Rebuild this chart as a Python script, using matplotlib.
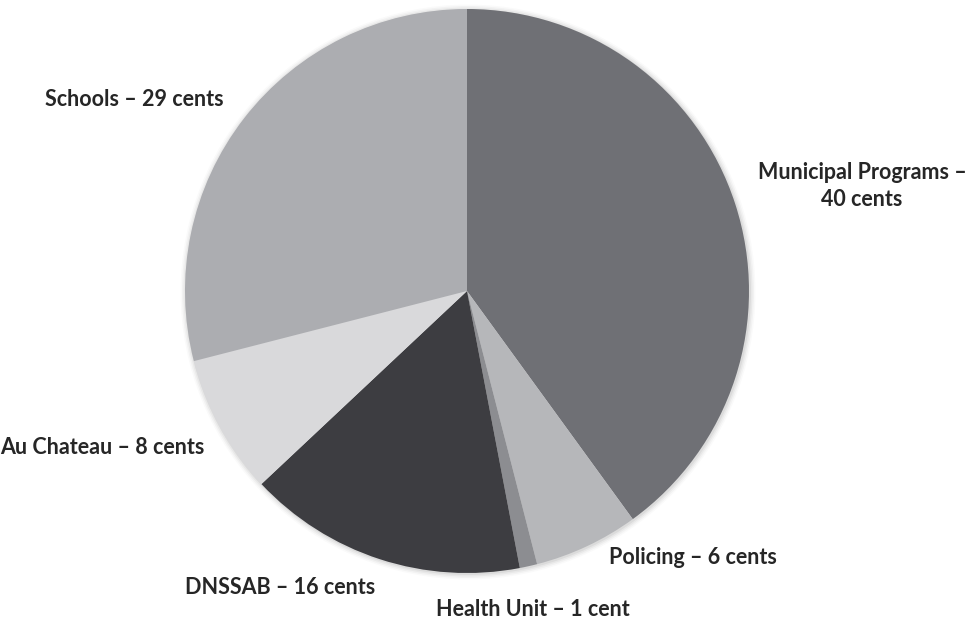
import matplotlib.pyplot as plt

labels = ['Municipal Programs –\n40 cents', 'Policing – 6 cents', 'Health Unit – 1 cent',
          'DNSSAB – 16 cents', 'Au Chateau – 8 cents', 'Schools – 29 cents']
cents = [40, 6, 1, 16, 8, 29]
colors = ['#6f7075', '#b6b7ba', '#8c8d91', '#3d3d41', '#d9d9db', '#acadb1']

# label centres in pixel coordinates (x, y from top)
label_pos = [(862, 186), (693, 558), (533, 609), (280, 588), (102, 447), (134, 100)]

W, H = 968, 622
fig = plt.figure(figsize=(W / 100, H / 100), dpi=100)
ax = fig.add_axes([0, 0, 1, 1])
ax.set_aspect('equal')

cx, cy, r = 467, H - 291, 282
# soft shadow round the pie
for i, a in enumerate([0.05, 0.04, 0.03, 0.02]):
    ax.add_patch(plt.Circle((cx + 1, cy - 1), r + 1 + i * 1.5, color='black', alpha=a, lw=0))

ax.pie(cents, colors=colors, startangle=90, counterclock=False, center=(cx, cy),
       radius=r, wedgeprops=dict(linewidth=0), frame=True)
ax.set_xlim(0, W)
ax.set_ylim(0, H)
ax.axis('off')

for lab, (x, y) in zip(labels, label_pos):
    ax.text(x, H - y, lab, ha='center', va='center', fontsize=15.5, fontweight='bold',
            family='Lato', color='#262626', linespacing=1.3)

fig.savefig('out.png', dpi=100)
